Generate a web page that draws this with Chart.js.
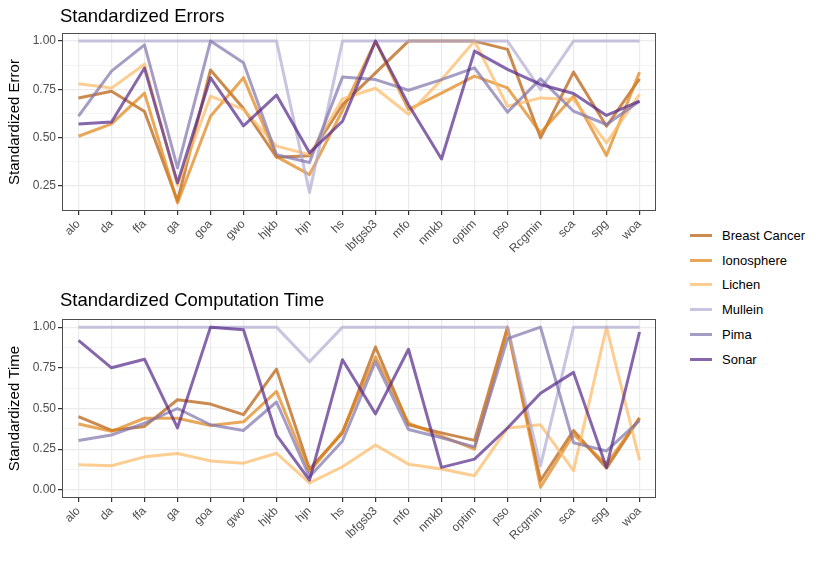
<!DOCTYPE html>
<html>
<head>
<meta charset="utf-8">
<script src="https://cdn.jsdelivr.net/npm/chart.js@4"></script>
<style>
  body { margin: 0; background: #fff; font-family: "Liberation Sans", Arial, sans-serif; }
  #wrap { position: relative; width: 830px; height: 571px; }
  .box { position: absolute; left: 0; width: 670px; height: 285px; }
  .title { position: absolute; left: 60px; font-size: 18.5px; color: #000; }
  #legend { position: absolute; left: 690px; top: 223px; font-size: 13px; color: #000; }
  .item { height: 24.8px; display: flex; align-items: center; }
  .swatch { width: 22px; height: 3px; margin-right: 10px; }
</style>
</head>
<body>
<div id="wrap">
  <div class="box" style="top:0"><canvas id="err-chart"></canvas></div>
  <div class="box" style="top:285px"><canvas id="time-chart"></canvas></div>
  <div class="title" style="top:5px">Standardized Errors</div>
  <div class="title" style="top:289px">Standardized Computation Time</div>
  <div id="legend"></div>
</div>
<script>
// Data
const methods = ['alo', 'da', 'ffa', 'ga', 'goa', 'gwo', 'hjkb', 'hjn', 'hs', 'lbfgsb3',
  'mfo', 'nmkb', 'optim', 'pso', 'Rcgmin', 'sca', 'spg', 'woa'];
const datasetNames = ['Breast Cancer', 'Ionosphere', 'Lichen', 'Mullein', 'Pima', 'Sonar'];
const lineColors = ['rgba(179,88,6,0.7)', 'rgba(224,130,20,0.7)', 'rgba(253,184,99,0.7)',
  'rgba(178,171,210,0.7)', 'rgba(128,115,172,0.7)', 'rgba(84,39,136,0.7)'];

const errBreast = [0.705, 0.74, 0.635, 0.17, 0.85, 0.65, 0.397, 0.405, 0.67, 0.835, 1.0, 1.0, 1.0, 0.957, 0.498, 0.839, 0.558, 0.804];
const errIono = [0.506, 0.57, 0.73, 0.16, 0.61, 0.81, 0.40, 0.307, 0.64, 1.0, 0.645, 0.73, 0.818, 0.757, 0.524, 0.714, 0.406, 0.839];
const errLichen = [0.778, 0.756, 0.88, 0.25, 0.714, 0.645, 0.455, 0.41, 0.70, 0.755, 0.62, 0.80, 1.0, 0.662, 0.705, 0.697, 0.472, 0.723];
const errMullein = [1, 1, 1, 1, 1, 1, 1, 0.215, 1, 1, 1, 1, 1, 1, 0.749, 1, 1, 1];
const errPima = [0.61, 0.844, 0.98, 0.342, 1.0, 0.887, 0.41, 0.37, 0.813, 0.80, 0.745, 0.80, 0.861, 0.631, 0.804, 0.636, 0.567, 0.688];
const errSonar = [0.569, 0.58, 0.86, 0.264, 0.81, 0.56, 0.72, 0.42, 0.584, 1.0, 0.67, 0.388, 0.948, 0.853, 0.775, 0.728, 0.614, 0.688];

const timeBreast = [0.45, 0.365, 0.39, 0.554, 0.527, 0.462, 0.742, 0.128, 0.35, 0.878, 0.40, 0.35, 0.304, 1.0, 0.057, 0.365, 0.134, 0.442];
const timeIono = [0.405, 0.36, 0.44, 0.44, 0.395, 0.418, 0.605, 0.11, 0.36, 0.817, 0.41, 0.33, 0.25, 0.99, 0.016, 0.34, 0.158, 0.44];
const timeLichen = [0.154, 0.148, 0.203, 0.223, 0.178, 0.164, 0.225, 0.043, 0.142, 0.276, 0.158, 0.128, 0.087, 0.38, 0.40, 0.118, 1.0, 0.183];
const timeMullein = [1, 1, 1, 1, 1, 1, 1, 0.787, 1, 1, 1, 1, 1, 1, 0.148, 1, 1, 1];
const timePima = [0.304, 0.337, 0.41, 0.50, 0.40, 0.365, 0.54, 0.08, 0.30, 0.787, 0.371, 0.32, 0.264, 0.929, 1.0, 0.29, 0.239, 0.426];
const timeSonar = [0.919, 0.75, 0.803, 0.381, 1.0, 0.984, 0.337, 0.06, 0.80, 0.467, 0.864, 0.138, 0.189, 0.38, 0.594, 0.722, 0.138, 0.97];

const errTicks = [0.25, 0.5, 0.75, 1.0];
const errMinor = [0.375, 0.625, 0.875];
const timeTicks = [0, 0.25, 0.5, 0.75, 1.0];
const timeMinor = [0.125, 0.375, 0.625, 0.875];

const font = "'Liberation Sans', Arial, sans-serif";

// draws the grey frame round the plot panel
const panelBorder = {
  id: 'panelBorder',
  afterDraw(chart) {
    const a = chart.chartArea, c = chart.ctx;
    c.save();
    c.strokeStyle = '#4d4d4d';
    c.lineWidth = 1;
    c.strokeRect(a.left + 0.5, a.top + 0.5, a.right - a.left - 1, a.bottom - a.top - 1);
    c.restore();
  }
};

function makeChart(id, series, yTitle, yMin, yMax, major, minor, padTop, xHeight) {
  const datasets = series.map((vals, i) => ({
    label: datasetNames[i],
    data: vals,
    borderColor: lineColors[i],
    borderWidth: 3,
    borderJoinStyle: 'round',
    pointRadius: 0,
    fill: false,
    tension: 0,
    order: series.length - i
  }));
  return new Chart(document.getElementById(id), {
    type: 'line',
    data: { labels: methods, datasets: datasets },
    options: {
      responsive: true,
      maintainAspectRatio: false,
      animation: false,
      layout: { padding: { top: padTop, right: 14, left: 0, bottom: 0 } },
      plugins: { legend: { display: false }, tooltip: { enabled: false } },
      scales: {
        x: {
          offset: true,
          afterFit: s => { s.height = xHeight; },
          grid: { color: '#ebebeb', lineWidth: 1.2, offset: false, tickColor: '#333', tickLength: 4, drawOnChartArea: true },
          border: { display: false },
          ticks: { color: '#4d4d4d', font: { family: font, size: 12 }, minRotation: 45, maxRotation: 45, autoSkip: false, padding: 2 }
        },
        y: {
          min: yMin,
          max: yMax,
          afterFit: s => { s.width = 62; },
          afterBuildTicks: s => {
            s.ticks = major.concat(minor).sort((a, b) => a - b).map(v => ({ value: v, major: major.includes(v) }));
          },
          grid: {
            color: '#ebebeb',
            lineWidth: ctx => (ctx.tick && major.includes(ctx.tick.value)) ? 1.2 : 0.6,
            tickColor: ctx => (ctx.tick && major.includes(ctx.tick.value)) ? '#333' : 'rgba(0,0,0,0)',
            tickLength: 4
          },
          border: { display: false },
          title: { display: true, text: yTitle, color: '#000', font: { family: font, size: 15 }, padding: { top: 6, bottom: 2 } },
          ticks: {
            color: '#4d4d4d',
            font: { family: font, size: 12 },
            padding: 2,
            callback: v => major.includes(v) ? v.toFixed(2) : ''
          }
        }
      }
    },
    plugins: [panelBorder]
  });
}

makeChart('err-chart', [errBreast, errIono, errLichen, errMullein, errPima, errSonar],
  'Standardized Error', 0.118, 1.042, errTicks, errMinor, 33, 74);
makeChart('time-chart', [timeBreast, timeIono, timeLichen, timeMullein, timePima, timeSonar],
  'Standardized Time', -0.05, 1.05, timeTicks, timeMinor, 34, 72);

// legend
const legend = document.getElementById('legend');
datasetNames.forEach((name, i) => {
  const item = document.createElement('div');
  item.className = 'item';
  const sw = document.createElement('div');
  sw.className = 'swatch';
  sw.style.background = lineColors[i];
  const label = document.createElement('span');
  label.textContent = name;
  item.appendChild(sw);
  item.appendChild(label);
  legend.appendChild(item);
});
</script>
</body>
</html>
